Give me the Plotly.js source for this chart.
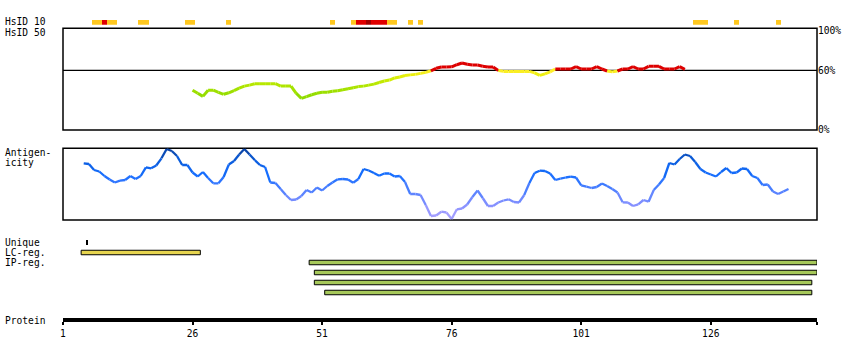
<!DOCTYPE html>
<html><head><meta charset="utf-8">
<script src="https://cdn.plot.ly/plotly-3.0.1.min.js"></script>
<style>body{margin:0;background:#fff}#chart{width:850px;height:360px}</style>
</head><body><div id="chart"></div>
<script>
// ---------- data ----------
const xTickVals = [1, 26, 51, 76, 101, 126, 146.5];
const xTickText = ['1', '26', '51', '76', '101', '126', ''];
const xRange = [1, 146.5];

// HsID 10 identity cells (residue numbers)
const hsid10Orange = [7, 8, 10, 11, 16, 17, 25, 26, 33, 53, 57, 64, 65, 68, 70, 123, 124, 125, 131, 139];
const hsid10Red = [9, 58, 59, 61, 62, 63];
const hsid10DarkRed = [60];

// HsID 50 similarity (%) for residues 26..121
const similarityStart = 26;
const similarityValues = [
  40, 36.9, 33.8, 40, 40, 37.9, 35.9, 37.4, 39.5, 42,
  44.1, 45.1, 46.5, 46.5, 46.5, 46.5, 46.5, 44.1, 44.1, 44.1,
  36.9, 31.8, 33.5, 35.4, 36.9, 37.9, 37.9, 39, 39.5, 40.5,
  41.5, 42.5, 43.6, 44.1, 45.1, 46.1, 47.7, 49.2, 50.2, 52.3,
  53.3, 54.8, 55.4, 55.9, 56.9, 57.9, 59.5, 62, 63.3, 63.3,
  63.5, 65.6, 67.3, 66.1, 65.4, 65.3, 64.1, 63.3, 63.3, 59.8,
  58.9, 58.9, 58.9, 58.9, 58.9, 58.9, 57.4, 54.9, 56.4, 58.4,
  61.3, 61.3, 61.3, 61.3, 63.6, 61.3, 61.3, 61.3, 63.6, 61.3,
  59.3, 58.4, 59.3, 61.3, 61.3, 63.6, 61.3, 61.3, 64, 64,
  64, 61.3, 61.3, 61.3, 63.6, 61
];

// Antigenicity (relative units) for residues 5..141
const antigenStart = 5;
const antigenValues = [
  56.7, 56, 50, 48.5, 44, 40.5, 37.5, 39.3, 40, 44,
  41, 44, 52.7, 51.7, 54.5, 61.7, 71, 69, 64, 55,
  55, 47.5, 43.5, 48, 42, 36.7, 36.7, 43, 55.5, 59,
  65.5, 71, 65.5, 60, 55, 53, 37.5, 37, 31, 25,
  20, 20.5, 24, 30, 27.5, 32.5, 29.5, 34, 37.5, 40.7,
  41, 40.5, 37.3, 41, 51, 49.5, 47, 44.3, 46.5, 46.5,
  43.5, 44, 38, 26, 26, 25, 15, 4, 4.5, 8.3,
  7.5, 1, 10.7, 11.5, 15.5, 23, 29.5, 22, 14, 14,
  17.5, 19.5, 20.7, 18, 17.5, 25, 37, 47, 49.3, 49,
  46.5, 40, 41.3, 42.5, 43.3, 42.5, 34.7, 33.3, 32, 33,
  36.5, 34, 31, 27.5, 17.7, 17.5, 14, 15.7, 20, 18.3,
  30, 35.5, 42, 57, 55.5, 61, 65.5, 64, 58, 51,
  47.5, 45.5, 43.5, 48, 52, 47, 47.5, 51.5, 51, 44,
  42, 35, 35.5, 28.5, 26, 28.5, 31
];

// Regions
const uniqueAt = [5.6];
const lcStarts = [5], lcEnds = [27];
const ipStarts = [49, 50, 50, 52], ipEnds = [146, 146, 145, 145];

// ---------- styling helpers ----------
const FONT = 'DejaVu Sans Mono, monospace';
function mix(a, b, t) { return a.map((v, i) => Math.round(v + (b[i] - v) * t)); }
function rampColor(stops, v) {
  if (v <= stops[0][0]) return 'rgb(' + stops[0][1].join(',') + ')';
  for (let i = 1; i < stops.length; i++) {
    if (v <= stops[i][0]) {
      const t = (v - stops[i - 1][0]) / (stops[i][0] - stops[i - 1][0]);
      return 'rgb(' + mix(stops[i - 1][1], stops[i][1], t).join(',') + ')';
    }
  }
  return 'rgb(' + stops[stops.length - 1][1].join(',') + ')';
}
const simStops = [[35, [145, 220, 0]], [47, [185, 232, 0]], [55, [232, 240, 10]], [59.9, [255, 238, 40]]];
function simColor(v) { return v >= 60 ? '#dd0000' : rampColor(simStops, v); }
const antStops = [[0, [175, 165, 255]], [15, [135, 145, 255]], [30, [80, 128, 255]], [45, [22, 110, 255]], [60, [10, 92, 220]], [72, [12, 62, 150]]];

const traces = [];

// HsID 10 cells
[[hsid10Orange, '#ffc820'], [hsid10Red, '#e00000'], [hsid10DarkRed, '#a00000']].forEach(([res, col]) => {
  traces.push({
    type: 'bar', x: res, y: res.map(() => 1), base: 0, width: 1,
    xaxis: 'x', yaxis: 'y2', marker: { color: col, line: { width: 0 } }, hoverinfo: 'skip'
  });
});

// Similarity line segments
for (let i = 0; i < similarityValues.length - 1; i++) {
  const a = similarityValues[i], b = similarityValues[i + 1];
  traces.push({
    type: 'scatter', mode: 'lines',
    x: [similarityStart + i, similarityStart + i + 1], y: [a, b],
    xaxis: 'x', yaxis: 'y', line: { color: simColor((a + b) / 2), width: 3 }, hoverinfo: 'skip'
  });
}

// Antigenicity segments
for (let i = 0; i < antigenValues.length - 1; i++) {
  const a = antigenValues[i], b = antigenValues[i + 1];
  traces.push({
    type: 'scatter', mode: 'lines',
    x: [antigenStart + i, antigenStart + i + 1], y: [a, b],
    xaxis: 'x', yaxis: 'y3', line: { color: rampColor(antStops, (a + b) / 2), width: 2.3 }, hoverinfo: 'skip'
  });
}

// Unique marker (row 0)
traces.push({
  type: 'bar', orientation: 'h', y: uniqueAt.map(() => 0), x: uniqueAt.map(() => 0.25),
  base: uniqueAt.map(u => u - 0.12), width: 0.55, xaxis: 'x', yaxis: 'y4',
  marker: { color: '#000', line: { width: 0 } }, hoverinfo: 'skip'
});
// LC region (row 1)
traces.push({
  type: 'bar', orientation: 'h', y: lcStarts.map(() => 1), x: lcStarts.map((s, i) => lcEnds[i] - s + 1),
  base: lcStarts.map(s => s - 0.5), width: 0.45, xaxis: 'x', yaxis: 'y4',
  marker: { color: '#e6d44e', line: { color: '#000', width: 1 } }, hoverinfo: 'skip'
});
// IP regions (rows 2..5)
traces.push({
  type: 'bar', orientation: 'h', y: ipStarts.map((s, i) => 2 + i), x: ipStarts.map((s, i) => ipEnds[i] - s + 1),
  base: ipStarts.map(s => s - 0.5), width: 0.45, xaxis: 'x', yaxis: 'y4',
  marker: { color: '#a6c85a', line: { color: '#000', width: 1 } }, hoverinfo: 'skip'
});

// ---------- layout ----------
const H = 360, L = 63, PW = 754;
const py = px => (H - px) / H;         // pixel row -> paper y
const pxX = px => (px - L) / PW;       // pixel col -> paper x
function label(text, yc) {
  return { text, xref: 'paper', yref: 'paper', x: pxX(3), y: py(yc), xanchor: 'left', yanchor: 'middle',
    showarrow: false, font: { family: FONT, size: 9.6, color: '#000' } };
}
const hidden = { visible: false, fixedrange: true };

const layout = {
  width: 850, height: 360, autosize: false,
  margin: { l: L, r: 850 - L - PW, t: 0, b: 0, pad: 0 },
  paper_bgcolor: '#fff', plot_bgcolor: 'rgba(0,0,0,0)',
  showlegend: false, barmode: 'overlay', bargap: 0,
  xaxis: {
    range: xRange, anchor: 'free', position: py(320), showline: true, linewidth: 4, linecolor: '#000',
    ticks: 'outside', ticklen: 3, tickwidth: 2, tickcolor: '#000',
    tickmode: 'array', tickvals: xTickVals, ticktext: xTickText,
    tickfont: { family: FONT, size: 9.6, color: '#000' },
    showgrid: false, zeroline: false, fixedrange: true
  },
  yaxis: {
    domain: [py(130), py(28.3)], range: [0, 102.2], anchor: 'x', side: 'right',
    showline: false, ticks: '', tickmode: 'array', tickvals: [0, 60, 100], ticktext: ['0%', '60%', '100%'],
    tickfont: { family: FONT, size: 9.6, color: '#000' }, showgrid: false, zeroline: false, fixedrange: true
  },
  yaxis2: Object.assign({ domain: [py(24.7), py(20)], range: [0, 1], anchor: 'x' }, hidden),
  yaxis3: Object.assign({ domain: [py(220), py(148.3)], range: [0, 71.7], anchor: 'x' }, hidden),
  yaxis4: Object.assign({ domain: [py(297.5), py(237.5)], range: [5.5, -0.5], anchor: 'x' }, hidden),
  shapes: [
    { type: 'rect', xref: 'x domain', yref: 'y domain', x0: 0, x1: 1, y0: 0, y1: 1, line: { color: '#000', width: 1.5 }, layer: 'below' },
    { type: 'line', xref: 'x domain', yref: 'y', x0: 0, x1: 1, y0: 60, y1: 60, line: { color: '#000', width: 1.3 }, layer: 'below' },
    { type: 'rect', xref: 'x domain', yref: 'y3 domain', x0: 0, x1: 1, y0: 0, y1: 1, line: { color: '#000', width: 1.5 }, layer: 'below' }
  ],
  annotations: [
    label('HsID 10', 21.5), label('HsID 50', 32.5),
    label('Antigen-', 152.5), label('icity', 163),
    label('Unique', 242), label('LC-reg.', 252.5), label('IP-reg.', 262.5),
    label('Protein', 320)
  ]
};

Plotly.newPlot('chart', traces, layout, { staticPlot: true, displayModeBar: false });
</script>
</body></html>
